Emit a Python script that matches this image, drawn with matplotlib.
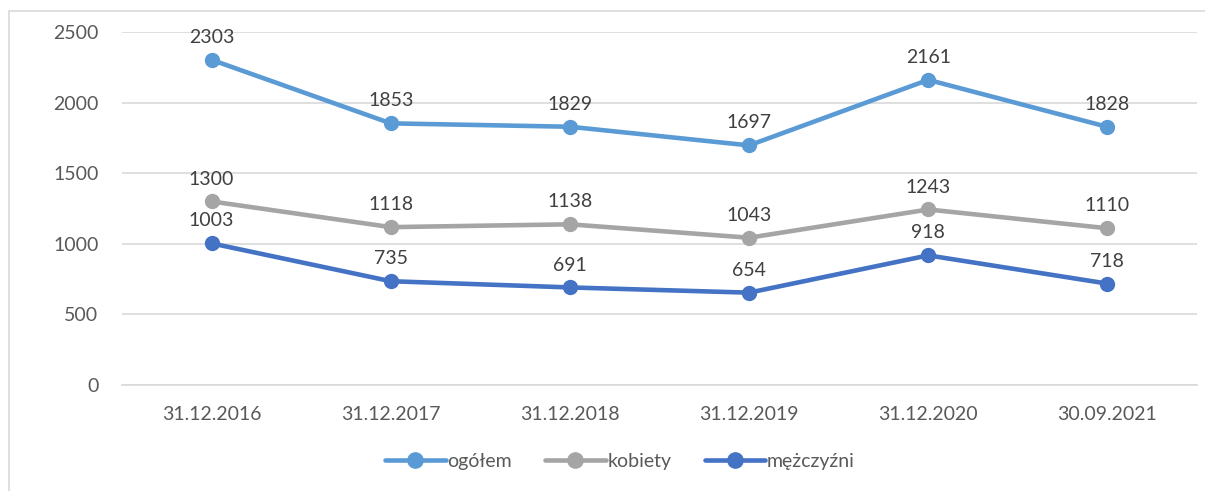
import matplotlib.pyplot as plt
from matplotlib.patches import Rectangle

# dane z wykresu
dates = ["31.12.2016", "31.12.2017", "31.12.2018", "31.12.2019", "31.12.2020", "30.09.2021"]
ogolem = [2303, 1853, 1829, 1697, 2161, 1828]
kobiety = [1300, 1118, 1138, 1043, 1243, 1110]
mezczyzni = [1003, 735, 691, 654, 918, 718]

plt.rcParams['font.family'] = ['Lato', 'DejaVu Sans']
txt = '#595959'
fs = 14

fig = plt.figure(figsize=(12.05, 4.91), dpi=100)
ax = fig.add_axes([122 / 1205, 1 - 385 / 491, (1197 - 122) / 1205, (385 - 32) / 491])

# ramka wokół całego wykresu
fig.patches.append(Rectangle((9 / 1205, -0.1), 1.2, 1 - 11 / 491 + 0.1, transform=fig.transFigure,
                             fill=False, edgecolor='#D9D9D9', linewidth=1.2))

x = range(len(dates))
series = [(ogolem, 'ogółem', '#5B9BD5'),
          (kobiety, 'kobiety', '#A5A5A5'),
          (mezczyzni, 'mężczyźni', '#4472C4')]
for vals, name, col in series:
    ax.plot(x, vals, color=col, linewidth=3.3, marker='o', markersize=10,
            solid_capstyle='round', label=name, zorder=3)
    for xi, v in zip(x, vals):
        ax.annotate(str(v), (xi, v), xytext=(0, 10), textcoords='offset points',
                    ha='center', va='bottom', fontsize=fs, color='#404040', zorder=4)

ax.set_xlim(-0.5, len(dates) - 0.5)
ax.set_ylim(0, 2500)
ax.set_yticks(range(0, 2501, 500))
ax.set_xticks(list(x))
ax.set_xticklabels(dates)
ax.grid(axis='y', color='#D9D9D9', linewidth=1.2)
ax.set_axisbelow(True)
for s in ['top', 'right', 'left']:
    ax.spines[s].set_visible(False)
ax.spines['bottom'].set_color('#D9D9D9')
ax.spines['bottom'].set_linewidth(1.2)
ax.tick_params(length=0, labelsize=fs, colors=txt)
ax.tick_params(axis='y', pad=17)
ax.tick_params(axis='x', pad=15)

fig.legend(loc='center', bbox_to_anchor=(620 / 1205, 1 - 461 / 491), ncol=3, frameon=False,
           fontsize=fs, labelcolor=txt, handlelength=3.1, handletextpad=0.1, columnspacing=1.7,
           markerscale=1.1)

fig.savefig('out.png', dpi=100)
